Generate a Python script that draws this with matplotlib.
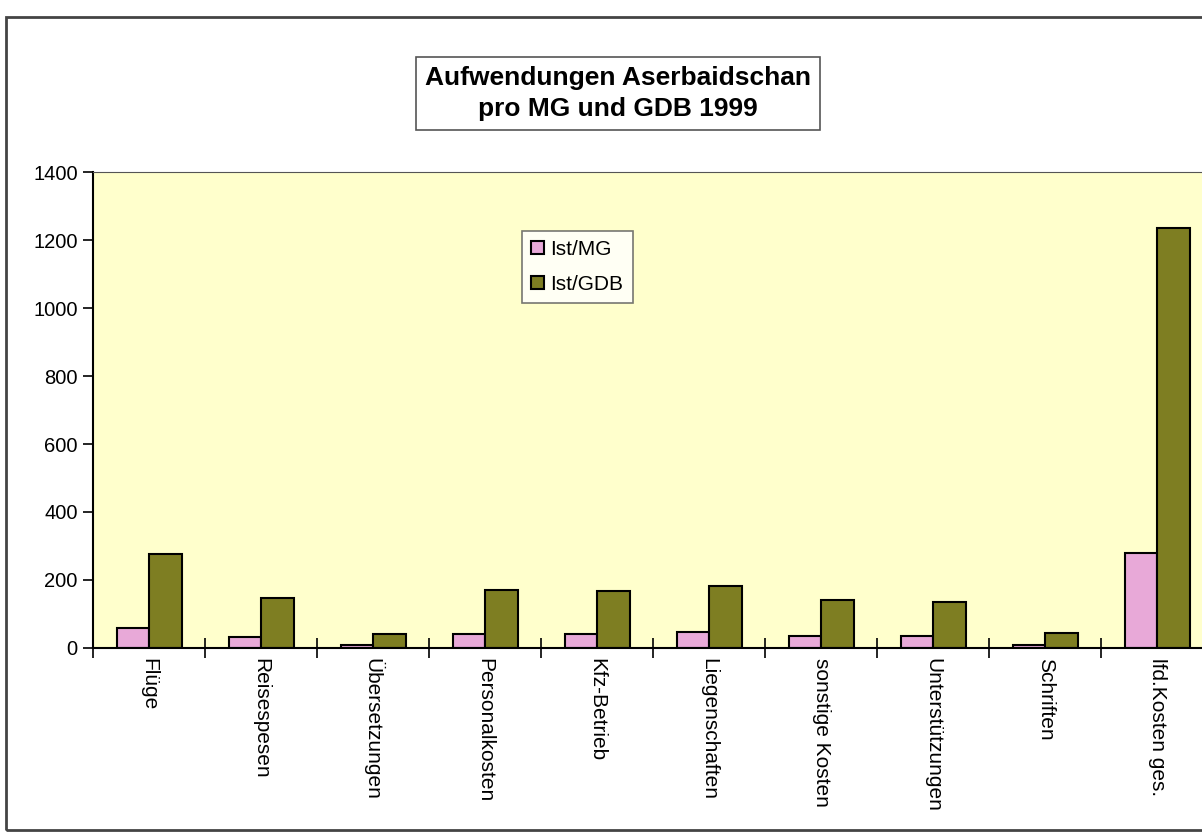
import numpy as np
import matplotlib.pyplot as plt
from matplotlib.patches import Rectangle

plt.rcParams['font.family'] = ['Liberation Sans', 'DejaVu Sans']

categories = ['Flüge', 'Reisespesen', 'Übersetzungen', 'Personalkosten', 'Kfz-Betrieb',
              'Liegenschaften', 'sonstige Kosten', 'Unterstützungen', 'Schriften', 'lfd.Kosten ges.']
ist_mg = [60, 33, 8, 40, 40, 48, 35, 35, 10, 278]
ist_gdb = [275, 148, 40, 170, 168, 183, 140, 135, 45, 1235]

fig = plt.figure(figsize=(12.02, 8.33), dpi=100)
ax = fig.add_axes([0.0774, 0.2221, 0.9318, 0.5714])
ax.set_facecolor('#ffffcc')

x = np.arange(len(categories))
w = 0.29
ax.bar(x - w / 2, ist_mg, w, color='#e8a9d8', edgecolor='black', linewidth=1.5, label='Ist/MG')
ax.bar(x + w / 2, ist_gdb, w, color='#7e7e22', edgecolor='black', linewidth=1.5, label='Ist/GDB')

ax.set_xlim(-0.5, len(categories) - 0.5)
ax.set_ylim(0, 1400)
ax.set_yticks(np.arange(0, 1401, 200))
ax.tick_params(axis='y', labelsize=14.5, length=7, width=1.2, direction='out', pad=4)

# category boundaries carry the ticks, labels sit at the centres
ax.set_xticks(np.arange(-0.5, len(categories) - 0.4, 1))
ax.set_xticklabels([])
ax.tick_params(axis='x', length=14, width=1.2, direction='inout')
for i, c in enumerate(categories):
    ax.text(i, -30, c, rotation=270, ha='center', va='top', fontsize=15,
            transform=ax.transData)

for s in ['left', 'bottom']:
    ax.spines[s].set_linewidth(1.5)
ax.spines['top'].set_color('#555555')
ax.spines['right'].set_visible(False)

leg = ax.legend(loc='upper left', bbox_to_anchor=(0.383, 0.877), fontsize=15, frameon=True,
                fancybox=False, edgecolor='#555555', handlelength=0.6, handleheight=0.6,
                handletextpad=0.3, borderpad=0.45, labelspacing=0.75, borderaxespad=0)
leg.get_frame().set_linewidth(1.2)

# title box
fig.text(0.514, 0.888, 'Aufwendungen Aserbaidschan\npro MG und GDB 1999', ha='center', va='center',
         fontsize=19, fontweight='bold', linespacing=1.35,
         bbox=dict(boxstyle='square,pad=0.35', facecolor='white', edgecolor='#555555', linewidth=1.2))

# outer chart frame
fig.add_artist(Rectangle((0.005, 0.004), 1.2, 0.975, transform=fig.transFigure,
                         fill=False, edgecolor='#444444', linewidth=2))

fig.savefig('out.png', dpi=100)
